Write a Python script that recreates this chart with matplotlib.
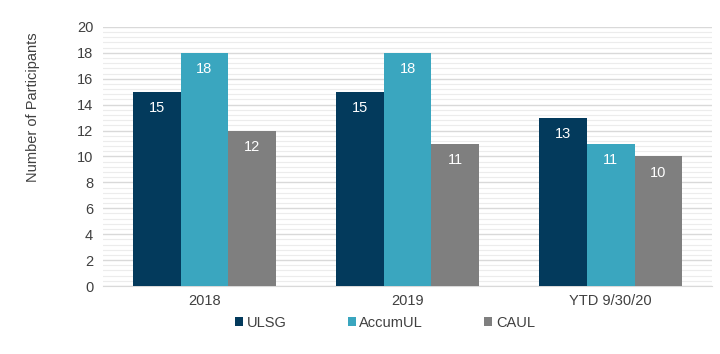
import matplotlib.pyplot as plt
import numpy as np
from matplotlib.ticker import MultipleLocator

plt.rcParams["font.family"] = ["Liberation Sans", "DejaVu Sans"]

categories = ["2018", "2019", "YTD 9/30/20"]
ulsg = [15, 15, 13]
accumul = [18, 18, 11]
caul = [12, 11, 10]

series = [
    ("ULSG", ulsg, "#033a5c"),
    ("AccumUL", accumul, "#3aa6bf"),
    ("CAUL", caul, "#7f7f7f"),
]

fig = plt.figure(figsize=(7.2, 3.54), dpi=100)
ax = fig.add_axes([0.143, 0.192, 0.846, 0.732])

x = np.arange(len(categories))
width = 0.236
for i, (name, vals, color) in enumerate(series):
    bars = ax.bar(x + (i - 1) * width, vals, width, color=color, label=name, zorder=3)
    for b, v in zip(bars, vals):
        ax.text(b.get_x() + b.get_width() / 2, v - 1.25, str(v), ha="center", va="center",
                color="white", fontsize=10.5)

ax.set_xlim(-0.5, 2.5)
ax.set_ylim(0, 20)
ax.yaxis.set_major_locator(MultipleLocator(2))
ax.yaxis.set_minor_locator(MultipleLocator(0.4))
ax.grid(axis="y", which="major", color="#d9d9d9", linewidth=1.0, zorder=0)
ax.grid(axis="y", which="minor", color="#ececec", linewidth=0.8, zorder=0)
ax.set_xticks(x)
ax.set_xticklabels(categories)
ax.tick_params(axis="both", which="both", length=0, labelsize=10.5, colors="#404040", pad=6)
ax.tick_params(axis="y", pad=7)
for s in ["top", "right", "left"]:
    ax.spines[s].set_visible(False)
ax.spines["bottom"].set_color("#d9d9d9")

ax.set_ylabel("Number of Participants", fontsize=10.5, color="#404040")
ax.yaxis.set_label_coords(-0.104, 0.69)

ax.legend(loc="upper center", bbox_to_anchor=(0.463, -0.065), ncol=3, frameon=False,
          fontsize=10.5, handlelength=0.55, handleheight=0.55, handletextpad=0.25,
          columnspacing=4.2, labelcolor="#404040")

fig.savefig("out.png", dpi=100)
